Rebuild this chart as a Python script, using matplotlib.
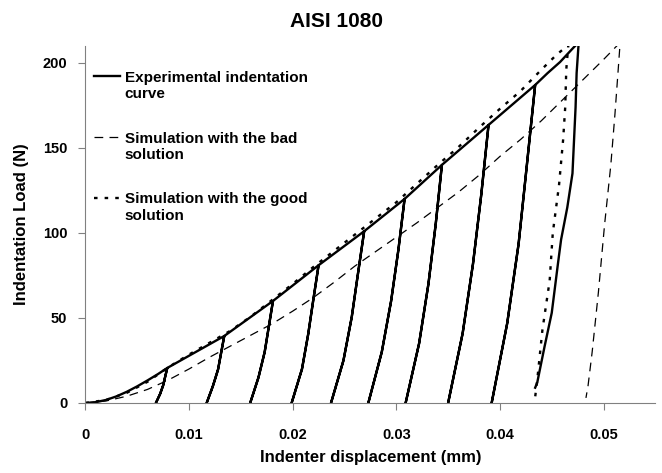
import matplotlib
matplotlib.use("Agg")
import matplotlib.pyplot as plt

plt.rcParams['font.family'] = ['Liberation Sans', 'DejaVu Sans']
plt.rcParams['font.weight'] = 'bold'

# experimental curve: loading start, peaks of the unloading cycles, unloading branches
exp_start_x = [0.0, 0.001, 0.002, 0.003, 0.004, 0.005, 0.006, 0.007]
exp_start_y = [0.0, 0.5, 1.8, 3.9, 6.6, 9.8, 13.3, 17.0]

unload_x = [
    [0.0079, 0.0077, 0.0075, 0.0072, 0.0068],
    [0.0134, 0.0131, 0.0128, 0.0123, 0.0117],
    [0.0181, 0.0177, 0.0173, 0.0167, 0.0159],
    [0.0225, 0.0220, 0.0215, 0.0209, 0.0199],
    [0.0269, 0.0263, 0.0257, 0.0249, 0.0237],
    [0.0308, 0.0302, 0.0295, 0.0286, 0.0273],
    [0.0344, 0.0338, 0.0331, 0.0322, 0.0309],
    [0.0389, 0.0382, 0.0374, 0.0364, 0.0350],
    [0.0434, 0.0426, 0.0418, 0.0407, 0.0392],
]
unload_y = [
    [20.6, 15.5, 10.3, 5.2, 0.0],
    [39.4, 29.6, 19.7, 9.9, 0.0],
    [60.0, 45.0, 30.0, 15.0, 0.0],
    [81.0, 61.0, 40.5, 20.0, 0.0],
    [101.0, 76.0, 50.5, 25.0, 0.0],
    [120.0, 90.0, 60.0, 30.0, 0.0],
    [140.0, 105.0, 70.0, 35.0, 0.0],
    [163.5, 122.6, 81.8, 40.9, 0.0],
    [187.0, 140.0, 93.5, 46.8, 0.0],
]
exp_top_x = [0.0446, 0.0458, 0.0471, 0.0476]
exp_top_y = [194.0, 200.5, 209.0, 212.0]
exp_final_x = [0.0474, 0.0473, 0.0470, 0.0465, 0.0459, 0.0456, 0.0450, 0.0443, 0.0436, 0.0434]
exp_final_y = [194.0, 174.0, 135.0, 115.0, 96.0, 82.0, 53.0, 33.0, 12.0, 9.0]

# simulation with the bad solution
bad_x = [0.0, 0.002, 0.004, 0.006, 0.008, 0.010, 0.012, 0.014, 0.016, 0.018, 0.020,
         0.022, 0.024, 0.026, 0.028, 0.030, 0.032, 0.034, 0.036, 0.038, 0.040,
         0.042, 0.044, 0.046, 0.048, 0.050, 0.0516,
         0.0514, 0.0511, 0.0507, 0.0501, 0.0495, 0.0489, 0.0485, 0.0483]
bad_y = [0.0, 1.2, 4.0, 8.0, 13.5, 20.0, 27.0, 33.5, 40.0, 46.5, 54.0,
         62.0, 71.0, 80.5, 89.0, 97.5, 106.0, 115.0, 124.0, 134.0, 145.0,
         155.0, 166.0, 178.0, 190.0, 202.0, 212.0,
         195.0, 170.0, 140.0, 105.0, 65.0, 30.0, 10.0, 3.0]

# simulation with the good solution
good_x = [0.0, 0.002, 0.004, 0.006, 0.008, 0.010, 0.012, 0.014, 0.016, 0.018, 0.020,
          0.022, 0.024, 0.026, 0.028, 0.030, 0.032, 0.034, 0.036, 0.038, 0.040,
          0.042, 0.044, 0.0455, 0.0466,
          0.0464, 0.0463, 0.0461, 0.0457, 0.0451, 0.0448, 0.0441, 0.0436, 0.0434]
good_y = [0.0, 1.8, 6.0, 12.5, 21.0, 28.5, 35.5, 42.5, 51.0, 60.5, 70.0,
          80.0, 89.5, 99.0, 108.5, 118.0, 129.0, 140.0, 150.5, 162.0, 173.0,
          183.5, 196.0, 205.0, 210.5,
          196.0, 174.0, 155.0, 128.0, 100.0, 72.0, 43.0, 13.5, 3.5]

# chain the experimental pieces into one path (unload then reload on each cycle)
exp_x = list(exp_start_x)
exp_y = list(exp_start_y)
for ux, uy in zip(unload_x, unload_y):
    exp_x += ux + ux[::-1]
    exp_y += uy + uy[::-1]
exp_x += exp_top_x + exp_final_x
exp_y += exp_top_y + exp_final_y

fig = plt.figure(figsize=(6.62, 4.73), dpi=100)
ax = fig.add_axes([0.129, 0.148, 0.861, 0.755])

ax.plot(exp_x, exp_y, color='black', lw=1.7, label='Experimental indentation\ncurve')
ax.plot(bad_x, bad_y, color='black', lw=0.9, linestyle=(0, (7, 5)),
        label='Simulation with the bad\nsolution')
ax.plot(good_x, good_y, color='black', lw=1.7, linestyle=(0, (1.5, 3.0)),
        label='Simulation with the good\nsolution')

ax.set_xlim(0, 0.055)
ax.set_ylim(0, 210)
ax.set_xticks([0, 0.01, 0.02, 0.03, 0.04, 0.05])
ax.set_xticklabels(['0', '0.01', '0.02', '0.03', '0.04', '0.05'])
ax.set_yticks([0, 50, 100, 150, 200])

for s in ['top', 'right']:
    ax.spines[s].set_visible(False)
for s in ['left', 'bottom']:
    ax.spines[s].set_color('#808080')
ax.tick_params(axis='both', direction='out', length=5, color='#808080', labelsize=10.5)
ax.tick_params(axis='x', pad=13)
ax.tick_params(axis='y', pad=8)

ax.set_xlabel('Indenter displacement (mm)', fontsize=12, fontweight='bold', labelpad=6)
ax.set_ylabel('Indentation Load (N)', fontsize=12, fontweight='bold', labelpad=10)
fig.text(0.508, 0.955, 'AISI 1080', ha='center', va='center', fontsize=15, fontweight='bold')

leg = ax.legend(loc='upper left', bbox_to_anchor=(0.015, 0.93), frameon=False,
                fontsize=11, handlelength=1.7, handletextpad=0.3, labelspacing=2.0,
                borderpad=0, borderaxespad=0)
for col in leg._legend_handle_box.get_children():
    for row in col.get_children():
        row.align = 'top'

fig.savefig('out.png', dpi=100)
